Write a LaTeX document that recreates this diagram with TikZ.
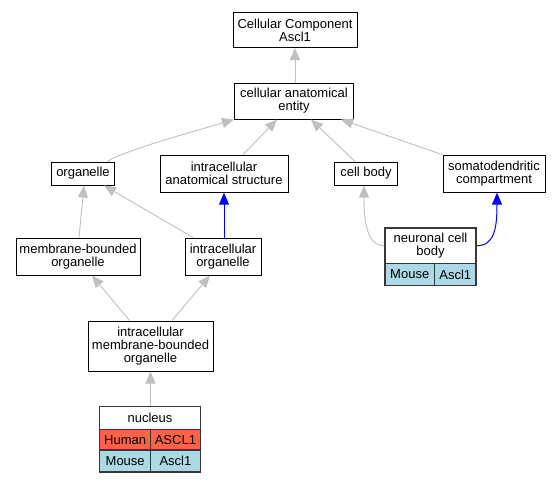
\documentclass[tikz,border=0pt]{standalone}
\usepackage{fontspec}
\setmainfont{Liberation Sans}
\usetikzlibrary{arrows.meta}
\definecolor{edgegray}{HTML}{C0C0C0}
\definecolor{humanred}{HTML}{FF6347}
\definecolor{mouseblue}{HTML}{ADD8E6}
\begin{document}
\begin{tikzpicture}[x=1pt,y=-1pt,
  box/.style={draw=black, line width=1pt, fill=white, align=center, inner sep=0pt, font=\fontsize{13pt}{12.8pt}\selectfont},
  cell/.style={draw=black!78, line width=1.1pt, inner sep=0pt, align=center, font=\fontsize{13pt}{12.8pt}\selectfont},
  isa/.style={draw=edgegray, line width=0.9pt, -{Triangle[length=12pt,width=10pt]}},
  partof/.style={draw=blue, line width=1pt, -{Triangle[length=12pt,width=10pt]}},
]
\useasboundingbox[fill=white] (0,0) rectangle (560,483);

\node[box, minimum width=124pt, minimum height=35pt] (cc) at (295,30) {Cellular Component\\Ascl1};
\node[box, minimum width=119pt, minimum height=36pt] (cae) at (294,101) {cellular anatomical\\entity};
\node[box, minimum width=63pt, minimum height=23pt] (org) at (83,173.5) {organelle};
\node[box, minimum width=128pt, minimum height=37pt] (ias) at (224,173.7) {intracellular\\anatomical structure};
\node[box, minimum width=63pt, minimum height=23pt] (cb) at (366,173.5) {cell body};
\node[box, minimum width=102pt, minimum height=37pt] (sdc) at (494,173.7) {somatodendritic\\compartment};
\node[box, minimum width=124pt, minimum height=37pt] (mbo) at (78,256.5) {membrane-bounded\\organelle};
\node[box, minimum width=76pt, minimum height=37pt] (io) at (223,256.5) {intracellular\\organelle};
\node[box, minimum width=125pt, minimum height=50pt] (imbo) at (150.5,346) {intracellular\\membrane-bounded\\organelle};

% nucleus table
\node[cell, fill=white, minimum width=100.4pt, minimum height=22.6pt] (nuc) at (150,418) {nucleus};
\node[cell, fill=humanred, minimum width=51pt, minimum height=20.7pt] (nucH) at (125.2,439.65) {Human};
\node[cell, fill=humanred, minimum width=49.4pt, minimum height=20.7pt] (nucHg) at (175.4,439.65) {ASCL1};
\node[cell, fill=mouseblue, minimum width=51pt, minimum height=22pt] (nucM) at (125.2,461) {Mouse};
\node[cell, fill=mouseblue, minimum width=49.4pt, minimum height=22pt] (nucMg) at (175.4,461) {Ascl1};

% neuronal cell body table
\node[cell, fill=white, minimum width=91pt, minimum height=35.5pt] (ncb) at (430.5,245.75) {neuronal cell\\body};
\node[cell, fill=mouseblue, minimum width=49.5pt, minimum height=22pt] (ncbM) at (409.75,274.5) {Mouse};
\node[cell, fill=mouseblue, minimum width=41.5pt, minimum height=22pt] (ncbG) at (455.25,274.5) {Ascl1};

% edges
\draw[isa] ([xshift=1pt]cae.north) -- (cc.south);
\draw[isa] ([xshift=24pt]org.north) .. controls +(20,-12) and +(-40,12) .. ([xshift=-60pt]cae.south);
\draw[isa] ([xshift=19pt]ias.north) -- ([xshift=-17pt]cae.south);
\draw[isa] ([xshift=-11pt]cb.north) -- ([xshift=17pt]cae.south);
\draw[isa] (sdc.north west) -- ([xshift=47pt]cae.south);
\draw[isa] ([xshift=1pt]mbo.north) -- ([xshift=1pt]org.south);
\draw[isa] ([xshift=-30pt]io.north) -- ([xshift=21pt]org.south);
\draw[partof] ([xshift=1pt]io.north) -- (ias.south);
\draw[isa] ([xshift=-21pt]imbo.north) -- ([xshift=14pt]mbo.south);
\draw[isa] ([xshift=21.5pt]imbo.north) -- ([xshift=-13pt]io.south);
\draw[isa] ([xshift=0.5pt]nuc.north) -- (imbo.south);
\draw[isa] (ncb.west) .. controls +(-18,0) and +(0,35) .. ([xshift=-2pt]cb.south);
\draw[partof] (ncb.east) .. controls +(18,0) and +(0,35) .. ([xshift=3pt]sdc.south);
\end{tikzpicture}
\end{document}
